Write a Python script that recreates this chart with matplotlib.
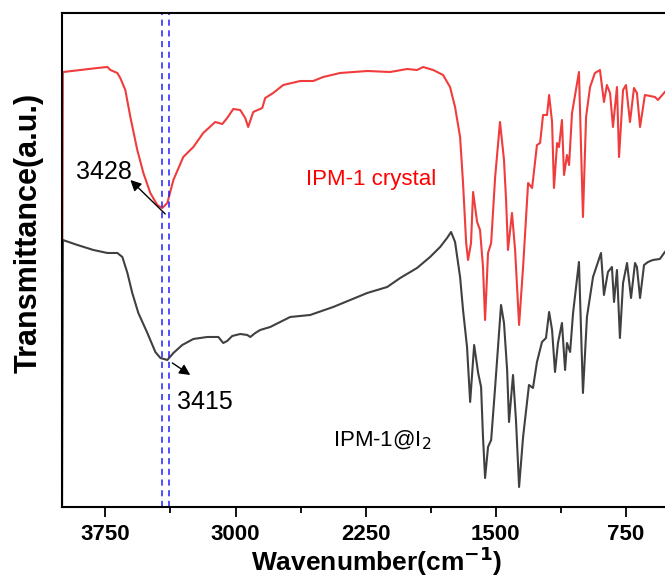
import numpy as np
import matplotlib
matplotlib.use('Agg')
import matplotlib.pyplot as plt
from matplotlib.ticker import MultipleLocator

plt.rcParams['font.family'] = ['Liberation Sans', 'DejaVu Sans']

# IPM-1 crystal spectrum (wavenumber, transmittance a.u.)
wn_crystal = [4000, 3995, 3992, 3796, 3738, 3721, 3681, 3664, 3635, 3606, 3566, 3531, 3491, 3451,
              3422, 3393, 3358, 3301, 3243, 3186, 3117, 3076, 3048, 3013, 2973, 2944, 2927, 2898,
              2846, 2829, 2783, 2725, 2627, 2552, 2495, 2397, 2241, 2109, 2011, 1954, 1919, 1861,
              1804, 1764, 1735, 1706, 1689, 1671, 1660, 1643, 1631, 1608, 1591, 1574, 1562, 1545,
              1527, 1504, 1476, 1453, 1441, 1430, 1407, 1389, 1366, 1343, 1314, 1291, 1263, 1245,
              1228, 1205, 1193, 1176, 1165, 1147, 1136, 1119, 1107, 1090, 1078, 1061, 1021, 998,
              980, 957, 929, 900, 877, 860, 842, 825, 802, 790, 767, 750, 727, 704, 687, 669, 641,
              612, 583, 566, 526]
t_crystal = [135, 435, 435, 439, 440, 437, 434, 429, 417, 390, 357, 334, 314, 302,
             299, 304, 327, 350, 360, 374, 385, 383, 389, 398, 397, 389, 380, 395,
             399, 409, 414, 422, 426, 426, 430, 434, 436, 435, 438, 437, 440, 437,
             432, 420, 400, 370, 324, 264, 247, 264, 315, 285, 277, 240, 187, 254,
             264, 330, 385, 347, 307, 257, 294, 257, 182, 240, 324, 319, 362, 364,
             392, 392, 412, 385, 319, 364, 360, 387, 332, 352, 342, 394, 435, 290,
             390, 420, 434, 437, 405, 422, 414, 380, 420, 350, 417, 422, 385, 419, 414, 380, 412,
             411, 410, 407, 415]

# IPM-1@I2 spectrum
wn_iodine = [4000, 3995, 3911, 3819, 3738, 3681, 3652, 3623, 3595, 3560, 3508, 3462, 3433, 3393,
             3358, 3307, 3243, 3163, 3099, 3071, 3048, 3019, 2973, 2932, 2915, 2886, 2858, 2800,
             2685, 2570, 2437, 2339, 2241, 2126, 2051, 1954, 1879, 1821, 1781, 1758, 1735, 1706,
             1689, 1666, 1648, 1625, 1602, 1585, 1574, 1562, 1545, 1527, 1504, 1470, 1453, 1435,
             1424, 1401, 1384, 1366, 1343, 1309, 1286, 1263, 1234, 1211, 1193, 1176, 1159, 1142,
             1119, 1101, 1090, 1072, 1055, 1021, 998, 975, 940, 894, 877, 854, 831, 819, 802, 785,
             767, 744, 721, 698, 687, 669, 646, 623, 595, 555, 526]
t_iodine = [-20, 267, 262, 257, 254, 254, 250, 234, 214, 194, 174, 155, 149, 147,
            154, 162, 168, 170, 170, 164, 166, 171, 173, 172, 170, 174, 177, 180,
            190, 192, 200, 207, 214, 220, 229, 239, 250, 260, 269, 275, 265, 230,
            197, 160, 105, 162, 134, 120, 70, 29, 60, 67, 120, 202, 184, 137,
            85, 132, 87, 20, 70, 122, 119, 145, 165, 169, 195, 177, 135, 164,
            184, 137, 164, 155, 194, 245, 114, 190, 230, 254, 212, 235, 240, 205, 237, 169,
            224, 244, 209, 244, 240, 209, 242, 245, 247, 248, 255]

marker_wn = [3422, 3382]

fig = plt.figure(figsize=(6.65, 5.83), dpi=100)
ax = fig.add_axes([0.0932, 0.1304, 0.9173, 0.8473])

ax.plot(wn_crystal, t_crystal, color='#f03c3c', lw=1.5)
ax.plot(wn_iodine, t_iodine, color='#404040', lw=1.5)
for w in marker_wn:
    ax.axvline(w, color='#2020ff', lw=1.1, ls=(0, (4, 3)))

ax.set_xlim(4000, 485)
ax.set_ylim(0, 494)
ax.set_yticks([])
ax.xaxis.set_major_locator(MultipleLocator(750))
ax.xaxis.set_minor_locator(MultipleLocator(375))
ax.tick_params(axis='x', which='major', direction='out', length=7, width=1.3,
               labelsize=16, pad=5)
ax.tick_params(axis='x', which='minor', direction='out', length=4, width=1.3)
for lab in ax.get_xticklabels():
    lab.set_fontweight('bold')
for s in ax.spines.values():
    s.set_linewidth(1.5)
ax.spines['right'].set_visible(False)

ax.set_xlabel('Wavenumber(cm$^{\\mathbf{-1}}$)', fontsize=19, fontweight='bold')
ax.xaxis.set_label_coords(0.516, -0.075)
ax.set_ylabel('Transmittance(a.u.)', fontsize=22, fontweight='bold')
ax.yaxis.set_label_coords(-0.03, 0.555)

# peak annotations: arrow heads point to the labels
ax.annotate('', xy=(3606, 327), xytext=(3405, 293),
            arrowprops=dict(arrowstyle='-|>', color='black', lw=1, shrinkA=0, shrinkB=0,
                            mutation_scale=16))
ax.text(3760, 335, '3428', fontsize=18, ha='center', va='center')
ax.annotate('', xy=(3261, 132), xytext=(3364, 144),
            arrowprops=dict(arrowstyle='-|>', color='black', lw=1, shrinkA=0, shrinkB=0,
                            mutation_scale=16))
ax.text(3174, 105, '3415', fontsize=18, ha='center', va='center')
ax.text(2218, 327, 'IPM-1 crystal', color='red', fontsize=16, ha='center', va='center')
ax.text(2155, 67, 'IPM-1@I$_2$', color='black', fontsize=16, ha='center', va='center')

fig.savefig('out.png', dpi=100)
